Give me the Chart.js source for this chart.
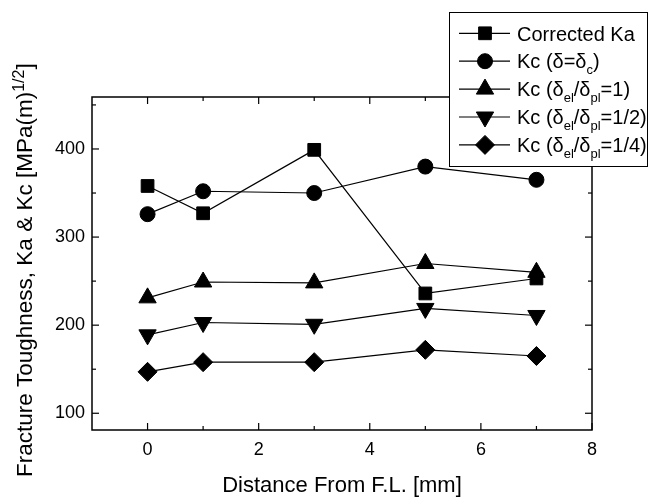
<!DOCTYPE html>
<html>
<head>
<meta charset="utf-8">
<script src="https://cdn.jsdelivr.net/npm/chart.js@4.4.0/dist/chart.umd.min.js"></script>
<style>
  html, body { margin: 0; padding: 0; background: #fff; }
  #wrap { width: 649px; height: 500px; position: relative; }
</style>
</head>
<body>
<div id="wrap"><canvas id="c" width="649" height="500"></canvas></div>
<script>
// ---- data ----
const distances = [0, 1, 3, 5, 7];
const correctedKa = [358, 327, 399, 236, 253];
const kcCritical = [326, 352, 350, 380, 365];
const kcRatio1 = [231, 249, 248, 270, 260];
const kcRatioHalf = [189, 203, 201, 219, 211];
const kcRatioQuarter = [147, 158, 158, 172, 165];

const xTickValues = [0, 2, 4, 6, 8];
const xMinorTickValues = [1, 3, 5, 7];
const yTickValues = [100, 200, 300, 400];
const yMinorTickValues = [150, 250, 350, 450];

const seriesLabels = [
  'Corrected Ka',
  'Kc (δ=δ_{c})',
  'Kc (δ_{el}/δ_{pl}=1)',
  'Kc (δ_{el}/δ_{pl}=1/2)',
  'Kc (δ_{el}/δ_{pl}=1/4)'
];
const xTitle = 'Distance From F.L. [mm]';
const yTitle = 'Fracture Toughness, Ka & Kc [MPa(m)^{1/2}]';

// ---- helpers ----
const FONT = '"Liberation Sans", Arial, Helvetica, sans-serif';
function plain(s) { return s.replace(/[_^]\{([^}]*)\}/g, '$1'); }
function parseRich(s) {
  const parts = []; const re = /([_^])\{([^}]*)\}/g; let last = 0, m;
  while ((m = re.exec(s))) {
    if (m.index > last) parts.push({ t: s.slice(last, m.index), k: '' });
    parts.push({ t: m[2], k: m[1] });
    last = re.lastIndex;
  }
  if (last < s.length) parts.push({ t: s.slice(last), k: '' });
  return parts;
}
function drawRich(ctx, s, x, y, size, smallSize, subShift, supShift) {
  parseRich(s).forEach(p => {
    const sz = p.k ? smallSize : size;
    ctx.font = sz + 'px ' + FONT;
    const dy = p.k === '_' ? subShift : (p.k === '^' ? -supShift : 0);
    ctx.fillText(p.t, x, y + dy);
    x += ctx.measureText(p.t).width;
  });
}
function toPoints(ys) { return distances.map((d, i) => ({ x: d, y: ys[i] })); }

const styles = [
  { pointStyle: 'rect', radius: 9, rotation: 0 },
  { pointStyle: 'circle', radius: 7.5, rotation: 0 },
  { pointStyle: 'triangle', radius: 10, rotation: 0 },
  { pointStyle: 'triangle', radius: 10, rotation: 180 },
  { pointStyle: 'rectRot', radius: 9.5, rotation: 0 }
];
const seriesValues = [correctedKa, kcCritical, kcRatio1, kcRatioHalf, kcRatioQuarter];

const datasets = seriesValues.map((vals, i) => ({
  label: plain(seriesLabels[i]),
  data: toPoints(vals),
  borderColor: '#000',
  borderWidth: 1.2,
  backgroundColor: '#000',
  pointBackgroundColor: '#000',
  pointBorderColor: '#000',
  pointBorderWidth: 1,
  pointStyle: styles[i].pointStyle,
  pointRadius: styles[i].radius,
  pointHoverRadius: styles[i].radius,
  pointRotation: styles[i].rotation,
  tension: 0,
  fill: false
}));

function marker(ctx, st, x, y) {
  ctx.fillStyle = '#000'; ctx.strokeStyle = '#000'; ctx.lineWidth = 1;
  if (Chart.helpers && Chart.helpers.drawPoint) {
    Chart.helpers.drawPoint(ctx, { pointStyle: st.pointStyle, rotation: st.rotation, radius: st.radius, borderWidth: 1 }, x, y);
    return;
  }
  const r = st.radius; ctx.beginPath();
  if (st.pointStyle === 'circle') ctx.arc(x, y, r, 0, Math.PI * 2);
  else if (st.pointStyle === 'rect') { const s = r * Math.SQRT1_2; ctx.rect(x - s, y - s, 2 * s, 2 * s); }
  else if (st.pointStyle === 'rectRot') { ctx.moveTo(x - r, y); ctx.lineTo(x, y - r); ctx.lineTo(x + r, y); ctx.lineTo(x, y + r); ctx.closePath(); }
  else { let a = st.rotation * Math.PI / 180; ctx.moveTo(x + Math.sin(a) * r, y - Math.cos(a) * r);
    a += 2 * Math.PI / 3; ctx.lineTo(x + Math.sin(a) * r, y - Math.cos(a) * r);
    a += 2 * Math.PI / 3; ctx.lineTo(x + Math.sin(a) * r, y - Math.cos(a) * r); ctx.closePath(); }
  ctx.fill(); ctx.stroke();
}

const framePlugin = {
  id: 'frame',
  beforeDatasetsDraw(chart) {
    const { ctx, chartArea: a, scales: { x, y } } = chart;
    ctx.save();
    ctx.strokeStyle = '#000';
    ctx.lineWidth = 1.5;
    ctx.strokeRect(a.left, a.top, a.right - a.left, a.bottom - a.top);
    ctx.lineWidth = 1.2;
    const line = (x1, y1, x2, y2) => { ctx.beginPath(); ctx.moveTo(x1, y1); ctx.lineTo(x2, y2); ctx.stroke(); };
    xTickValues.forEach(v => { const p = x.getPixelForValue(v); line(p, a.bottom, p, a.bottom - 7); line(p, a.top, p, a.top + 7); });
    xMinorTickValues.forEach(v => { const p = x.getPixelForValue(v); line(p, a.bottom, p, a.bottom - 4); line(p, a.top, p, a.top + 4); });
    yTickValues.forEach(v => { const p = y.getPixelForValue(v); line(a.left, p, a.left + 7, p); line(a.right, p, a.right - 7, p); });
    yMinorTickValues.forEach(v => { const p = y.getPixelForValue(v); line(a.left, p, a.left + 4, p); line(a.right, p, a.right - 4, p); });
    ctx.restore();
  },
  afterDraw(chart) {
    const { ctx } = chart;
    ctx.save();
    // legend box
    const lx = 449, ly = 12, lw = 199, lh = 155;
    ctx.fillStyle = '#fff';
    ctx.fillRect(lx, ly, lw, lh);
    ctx.strokeStyle = '#000'; ctx.lineWidth = 1;
    ctx.strokeRect(lx + 0.5, ly + 0.5, lw - 1, lh - 1);
    seriesLabels.forEach((lab, i) => {
      const ry = 33.3 + i * 27.9;
      ctx.strokeStyle = '#000'; ctx.lineWidth = 1.2;
      ctx.beginPath(); ctx.moveTo(459, ry); ctx.lineTo(510, ry); ctx.stroke();
      marker(ctx, styles[i], 485, ry);
      ctx.fillStyle = '#000';
      ctx.textBaseline = 'alphabetic'; ctx.textAlign = 'left';
      drawRich(ctx, lab, 517, ry + 7.2, 20, 13, 6, 8);
    });
    // y axis title (rotated)
    ctx.translate(32, 477);
    ctx.rotate(-Math.PI / 2);
    ctx.fillStyle = '#000';
    ctx.textBaseline = 'alphabetic'; ctx.textAlign = 'left';
    drawRich(ctx, yTitle, 0, 0, 22.5, 16, 6, 8);
    ctx.restore();
  }
};

new Chart(document.getElementById('c'), {
  type: 'line',
  data: { datasets },
  options: {
    responsive: false,
    animation: false,
    devicePixelRatio: 1,
    layout: { padding: { top: 97, right: 57, left: 0, bottom: 0 } },
    plugins: { legend: { display: false }, tooltip: { enabled: false } },
    events: [],
    scales: {
      x: {
        type: 'linear',
        min: -1, max: 8,
        grid: { display: false, drawTicks: false },
        border: { display: false },
        afterBuildTicks: s => { s.ticks = xTickValues.map(v => ({ value: v })); },
        afterFit: s => { s.height = 70; },
        ticks: { color: '#000', font: { family: FONT, size: 18 }, padding: 9, maxRotation: 0 },
        title: { display: true, text: xTitle, color: '#000', font: { family: FONT, size: 22 }, padding: { top: 0, bottom: 1 } }
      },
      y: {
        type: 'linear',
        min: 81, max: 459,
        grid: { display: false, drawTicks: false },
        border: { display: false },
        afterBuildTicks: s => { s.ticks = yTickValues.map(v => ({ value: v })); },
        afterFit: s => { s.width = 92; },
        ticks: { color: '#000', font: { family: FONT, size: 18 }, padding: 7 },
        title: { display: false }
      }
    }
  },
  plugins: [framePlugin]
});
</script>
</body>
</html>
